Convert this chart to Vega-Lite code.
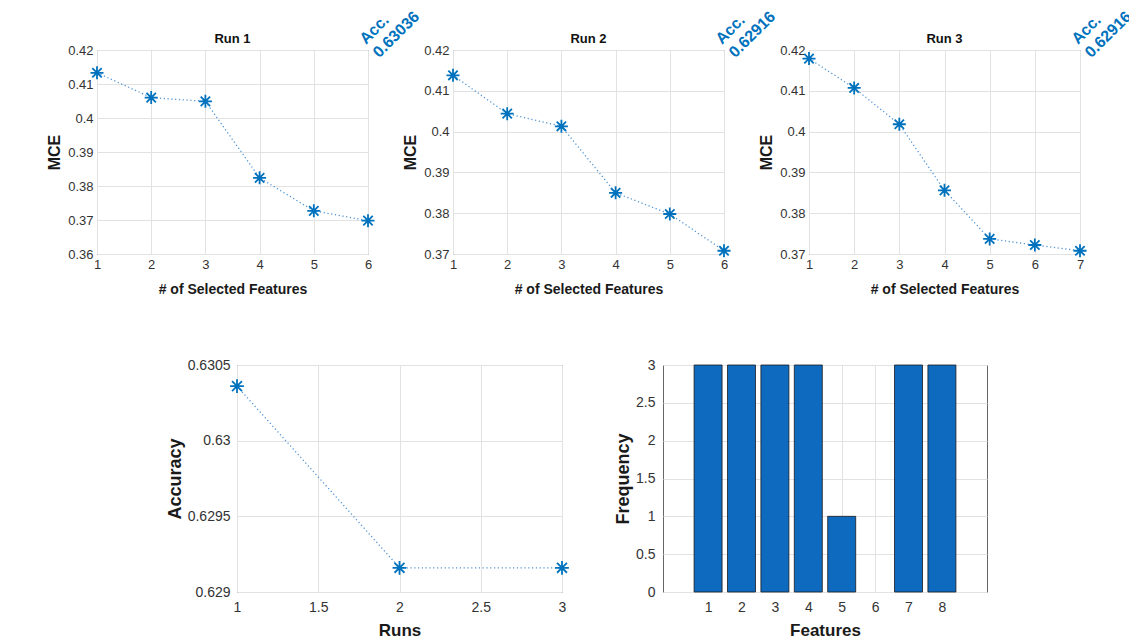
{
  "$schema": "https://vega.github.io/schema/vega-lite/v6.json",
  "background": "white",
  "padding": {"left": 46, "top": -6, "right": 5, "bottom": 5},
  "datasets": {
    "mce": [
      {"run": "Run 1", "n": 1, "mce": 0.4133},
      {"run": "Run 1", "n": 2, "mce": 0.4060},
      {"run": "Run 1", "n": 3, "mce": 0.4049},
      {"run": "Run 1", "n": 4, "mce": 0.3824},
      {"run": "Run 1", "n": 5, "mce": 0.3727},
      {"run": "Run 1", "n": 6, "mce": 0.3698},
      {"run": "Run 2", "n": 1, "mce": 0.4138},
      {"run": "Run 2", "n": 2, "mce": 0.4044},
      {"run": "Run 2", "n": 3, "mce": 0.4013},
      {"run": "Run 2", "n": 4, "mce": 0.3850},
      {"run": "Run 2", "n": 5, "mce": 0.3798},
      {"run": "Run 2", "n": 6, "mce": 0.3708},
      {"run": "Run 3", "n": 1, "mce": 0.4179},
      {"run": "Run 3", "n": 2, "mce": 0.4107},
      {"run": "Run 3", "n": 3, "mce": 0.4018},
      {"run": "Run 3", "n": 4, "mce": 0.3856},
      {"run": "Run 3", "n": 5, "mce": 0.3737},
      {"run": "Run 3", "n": 6, "mce": 0.3722},
      {"run": "Run 3", "n": 7, "mce": 0.3708}
    ],
    "acc": [
      {"run": 1, "accuracy": 0.63036},
      {"run": 2, "accuracy": 0.62916},
      {"run": 3, "accuracy": 0.62916}
    ],
    "freq": [
      {"feature": 1, "frequency": 3},
      {"feature": 2, "frequency": 3},
      {"feature": 3, "frequency": 3},
      {"feature": 4, "frequency": 3},
      {"feature": 5, "frequency": 1},
      {"feature": 6, "frequency": 0},
      {"feature": 7, "frequency": 3},
      {"feature": 8, "frequency": 3}
    ]
  },
  "config": {
    "font": "Liberation Sans",
    "view": {"stroke": "#666666", "strokeWidth": 1},
    "axis": {
      "labelFontSize": 13,
      "labelColor": "#333333",
      "titleFontSize": 14,
      "titleFontWeight": "bold",
      "titleColor": "#1a1a1a",
      "gridColor": "#e2e2e2",
      "domain": false,
      "ticks": false,
      "grid": true,
      "labelPadding": 4,
      "labelFlush": false,
      "labelOverlap": false
    },
    "axisX": {"titlePadding": 11},
    "axisY": {"titlePadding": 5, "titleFontSize": 16},
    "title": {"fontSize": 13, "fontWeight": "bold", "color": "#111111", "offset": 4, "dy": 55}
  },
  "spacing": 60,
  "vconcat": [
    {
      "bounds": "flush",
      "spacing": 85,
      "hconcat": [
        {
          "width": 271, "height": 204,
          "title": "Run 1",
          "data": {"name": "mce"},
          "transform": [{"filter": "datum.run === 'Run 1'"}],
          "encoding": {
            "x": {"field": "n", "type": "quantitative", "title": "# of Selected Features",
                  "scale": {"domain": [1, 6], "nice": false, "zero": false},
                  "axis": {"values": [1, 2, 3, 4, 5, 6], "format": "d"}},
            "y": {"field": "mce", "type": "quantitative", "title": "MCE",
                  "scale": {"domain": [0.36, 0.42], "nice": false, "zero": false},
                  "axis": {"values": [0.36, 0.37, 0.38, 0.39, 0.4, 0.41, 0.42], "format": "~g"}}
          },
          "layer": [
            {"mark": {"type": "line", "color": "#4f93d2", "strokeDash": [1.2, 2.6], "strokeWidth": 1.3}},
            {"mark": {"type": "point", "shape": "M-1,0L1,0M0,-1L0,1M-0.72,-0.72L0.72,0.72M-0.72,0.72L0.72,-0.72", "filled": false, "stroke": "#0072BD", "strokeWidth": 1.8, "size": 170, "opacity": 1}},
            {
              "transform": [{"filter": "datum.n === 6"}],
              "mark": {"type": "text", "text": ["Acc.", "0.63036"], "angle": -45, "align": "left", "baseline": "bottom", "dx": 2, "dy": -2, "fontSize": 16, "fontWeight": "bold", "color": "#0072BD", "lineHeight": 19},
              "encoding": {"x": {"field": "n", "type": "quantitative"}, "y": {"datum": 0.42}}
            }
          ]
        },
        {
          "width": 271, "height": 204,
          "title": "Run 2",
          "data": {"name": "mce"},
          "transform": [{"filter": "datum.run === 'Run 2'"}],
          "encoding": {
            "x": {"field": "n", "type": "quantitative", "title": "# of Selected Features",
                  "scale": {"domain": [1, 6], "nice": false, "zero": false},
                  "axis": {"values": [1, 2, 3, 4, 5, 6], "format": "d"}},
            "y": {"field": "mce", "type": "quantitative", "title": "MCE",
                  "scale": {"domain": [0.37, 0.42], "nice": false, "zero": false},
                  "axis": {"values": [0.37, 0.38, 0.39, 0.4, 0.41, 0.42], "format": "~g"}}
          },
          "layer": [
            {"mark": {"type": "line", "color": "#4f93d2", "strokeDash": [1.2, 2.6], "strokeWidth": 1.3}},
            {"mark": {"type": "point", "shape": "M-1,0L1,0M0,-1L0,1M-0.72,-0.72L0.72,0.72M-0.72,0.72L0.72,-0.72", "filled": false, "stroke": "#0072BD", "strokeWidth": 1.8, "size": 170, "opacity": 1}},
            {
              "transform": [{"filter": "datum.n === 6"}],
              "mark": {"type": "text", "text": ["Acc.", "0.62916"], "angle": -45, "align": "left", "baseline": "bottom", "dx": 2, "dy": -2, "fontSize": 16, "fontWeight": "bold", "color": "#0072BD", "lineHeight": 19},
              "encoding": {"x": {"field": "n", "type": "quantitative"}, "y": {"datum": 0.42}}
            }
          ]
        },
        {
          "width": 271, "height": 204,
          "title": "Run 3",
          "data": {"name": "mce"},
          "transform": [{"filter": "datum.run === 'Run 3'"}],
          "encoding": {
            "x": {"field": "n", "type": "quantitative", "title": "# of Selected Features",
                  "scale": {"domain": [1, 7], "nice": false, "zero": false},
                  "axis": {"values": [1, 2, 3, 4, 5, 6, 7], "format": "d"}},
            "y": {"field": "mce", "type": "quantitative", "title": "MCE",
                  "scale": {"domain": [0.37, 0.42], "nice": false, "zero": false},
                  "axis": {"values": [0.37, 0.38, 0.39, 0.4, 0.41, 0.42], "format": "~g"}}
          },
          "layer": [
            {"mark": {"type": "line", "color": "#4f93d2", "strokeDash": [1.2, 2.6], "strokeWidth": 1.3}},
            {"mark": {"type": "point", "shape": "M-1,0L1,0M0,-1L0,1M-0.72,-0.72L0.72,0.72M-0.72,0.72L0.72,-0.72", "filled": false, "stroke": "#0072BD", "strokeWidth": 1.8, "size": 170, "opacity": 1}},
            {
              "transform": [{"filter": "datum.n === 7"}],
              "mark": {"type": "text", "text": ["Acc.", "0.62916"], "angle": -45, "align": "left", "baseline": "bottom", "dx": 2, "dy": -2, "fontSize": 16, "fontWeight": "bold", "color": "#0072BD", "lineHeight": 19},
              "encoding": {"x": {"field": "n", "type": "quantitative"}, "y": {"datum": 0.42}}
            }
          ]
        }
      ]
    },
    {
      "bounds": "flush",
      "spacing": 101,
      "hconcat": [
        {
          "width": 39, "height": 10,
          "data": {"values": [{}]},
          "mark": {"type": "point", "opacity": 0},
          "encoding": {},
          "view": {"stroke": null}
        },
        {
          "width": 325, "height": 227,
          "data": {"name": "acc"},
          "encoding": {
            "x": {"field": "run", "type": "quantitative", "title": "Runs",
                  "scale": {"domain": [1, 3], "nice": false, "zero": false},
                  "axis": {"values": [1, 1.5, 2, 2.5, 3], "format": "~g", "labelFontSize": 14, "titleFontSize": 17, "labelPadding": 8, "titlePadding": 8}},
            "y": {"field": "accuracy", "type": "quantitative", "title": "Accuracy",
                  "scale": {"domain": [0.629, 0.6305], "nice": false, "zero": false},
                  "axis": {"values": [0.629, 0.6295, 0.63, 0.6305], "format": "~g", "labelFontSize": 14, "titleFontSize": 18, "labelPadding": 7, "titlePadding": 3}}
          },
          "layer": [
            {"mark": {"type": "line", "color": "#4f93d2", "strokeDash": [1.2, 2.6], "strokeWidth": 1.3}},
            {"mark": {"type": "point", "shape": "M-1,0L1,0M0,-1L0,1M-0.72,-0.72L0.72,0.72M-0.72,0.72L0.72,-0.72", "filled": false, "stroke": "#0072BD", "strokeWidth": 1.8, "size": 190, "opacity": 1}}
          ]
        },
        {
          "width": 324, "height": 227,
          "data": {"name": "freq"},
          "transform": [{"filter": "datum.frequency > 0"}],
          "mark": {"type": "bar", "width": 28, "color": "#0e6abf", "stroke": "#1a1a1a", "strokeWidth": 0.8},
          "encoding": {
            "x": {"field": "feature", "type": "quantitative", "title": "Features",
                  "scale": {"domain": [-0.2, 9.2], "nice": false, "zero": false},
                  "axis": {"values": [1, 2, 3, 4, 5, 6, 7, 8], "format": "d", "labelFontSize": 14, "titleFontSize": 17, "labelPadding": 8, "titlePadding": 8}},
            "y": {"field": "frequency", "type": "quantitative", "title": "Frequency",
                  "scale": {"domain": [0, 3], "nice": false},
                  "axis": {"values": [0, 0.5, 1, 1.5, 2, 2.5, 3], "format": "~g", "labelFontSize": 14, "titleFontSize": 18, "labelPadding": 8, "titlePadding": 3}}
          }
        }
      ]
    }
  ]
}
